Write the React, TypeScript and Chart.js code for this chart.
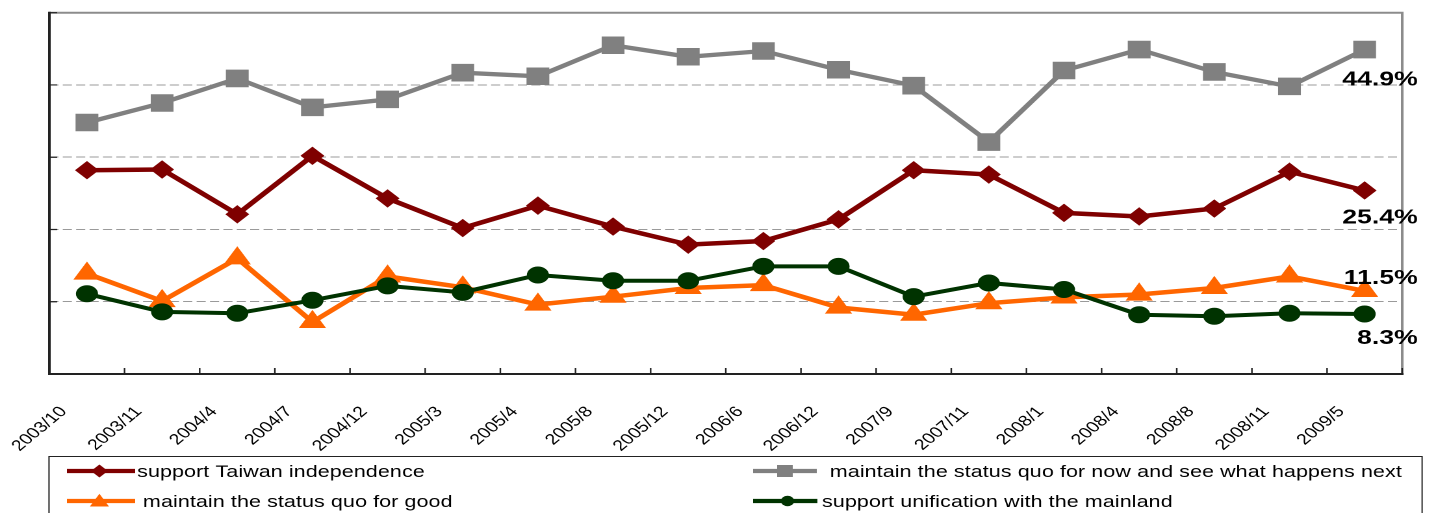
import React, { useEffect, useRef } from 'react';
import { Chart, registerables } from 'chart.js';

Chart.register(...registerables);

// ---------------- data ----------------
const categories = [
  '2003/10', '2003/11', '2004/4', '2004/7', '2004/12', '2005/3', '2005/4', '2005/8', '2005/12',
  '2006/6', '2006/12', '2007/9', '2007/11', '2008/1', '2008/4', '2008/8', '2008/11', '2009/5',
];

const independence = [28.2, 28.3, 22.1, 30.2, 24.3, 20.2, 23.3, 20.4, 17.9, 18.4, 21.4, 28.2, 27.6, 22.3, 21.8, 22.9, 28.0, 25.4];
const statusQuoNow = [34.8, 37.5, 40.9, 36.9, 38.0, 41.7, 41.2, 45.5, 43.9, 44.7, 42.1, 39.9, 32.1, 42.0, 44.9, 41.8, 39.8, 44.9];
const statusQuoGood = [13.9, 10.1, 16.0, 7.2, 13.5, 12.0, 9.6, 10.7, 11.9, 12.3, 9.2, 8.2, 9.8, 10.6, 11.0, 11.9, 13.5, 11.5];
const unification = [11.1, 8.6, 8.4, 10.2, 12.2, 11.3, 13.7, 12.9, 12.9, 14.9, 14.9, 10.7, 12.6, 11.7, 8.2, 8.0, 8.4, 8.3];

const seriesNames = [
  'support Taiwan independence',
  'maintain the status quo for now and see what happens next',
  'maintain the status quo for good',
  'support unification with the mainland',
];

const yMin = 0;
const yMax = 50;
const yStep = 10;

// ---------------- styles ----------------
const OUT_W = 1436;
const INNER_W = 1105;
const H = 513;
const FONT = '"Liberation Sans", Arial, sans-serif';

const styles = [
  { color: '#7f0000', pointStyle: 'rectRot', radius: 8.5, lineWidth: 4.5, order: 3, labelDy: 33, legend: { x1: 51.5, x2: 104, mx: 76.5, tx: 105.5, y: 471 }, marker: 6.5 },
  { color: '#808080', pointStyle: 'rect', radius: 11.7, lineWidth: 4.3, order: 2, labelDy: 36, legend: { x1: 579.5, x2: 628.5, mx: 604, tx: 638.5, y: 471 }, marker: 6 },
  { color: '#ff6600', pointStyle: 'triangle', radius: 11.1, lineWidth: 4.5, order: 1, labelDy: -7, legend: { x1: 51.5, x2: 104, mx: 76.5, tx: 110, y: 501 }, marker: 8.5 },
  { color: '#003300', pointStyle: 'circle', radius: 8, lineWidth: 4, order: 0, labelDy: 30, legend: { x1: 579.5, x2: 629, mx: 606, tx: 632.5, y: 501 }, marker: 5.2 },
];

const seriesValues = [independence, statusQuoNow, statusQuoGood, unification];

const toXY = (arr: number[]) => arr.map((v, i) => ({ x: i + 0.5, y: v }));

function drawMarker(ctx: CanvasRenderingContext2D, style: string, x: number, y: number, r: number) {
  ctx.beginPath();
  if (style === 'rectRot') {
    ctx.moveTo(x - r, y);
    ctx.lineTo(x, y - r);
    ctx.lineTo(x + r, y);
    ctx.lineTo(x, y + r);
    ctx.closePath();
  } else if (style === 'rect') {
    ctx.rect(x - r, y - r, 2 * r, 2 * r);
  } else if (style === 'triangle') {
    ctx.moveTo(x, y - r * 0.85);
    ctx.lineTo(x + r * 0.866, y + r * 0.65);
    ctx.lineTo(x - r * 0.866, y + r * 0.65);
    ctx.closePath();
  } else {
    ctx.arc(x, y, r, 0, Math.PI * 2);
  }
  ctx.fill();
}

const framePlugin = {
  id: 'frame',
  beforeDatasetsDraw(chart: any) {
    const { ctx, chartArea: a, scales } = chart;
    ctx.save();
    ctx.strokeStyle = '#8c8c8c';
    ctx.lineWidth = 2;
    ctx.beginPath();
    ctx.moveTo(a.left, a.top);
    ctx.lineTo(a.right, a.top);
    ctx.lineTo(a.right, a.bottom);
    ctx.stroke();

    ctx.strokeStyle = '#222';
    ctx.lineWidth = 2;
    ctx.beginPath();
    ctx.moveTo(a.left, a.top - 1);
    ctx.lineTo(a.left, a.bottom);
    ctx.lineTo(a.right + 1, a.bottom);
    ctx.stroke();

    ctx.lineWidth = 1.2;
    ctx.beginPath();
    scales.y.ticks.forEach((t: any) => {
      const py = scales.y.getPixelForValue(t.value);
      ctx.moveTo(a.left, py);
      ctx.lineTo(a.left + 6, py);
    });
    scales.x.ticks.forEach((t: any) => {
      const px = scales.x.getPixelForValue(t.value);
      ctx.moveTo(px, a.bottom);
      ctx.lineTo(px, a.bottom - 6);
    });
    ctx.stroke();
    ctx.restore();
  },
};

const labelsPlugin = {
  id: 'endLabels',
  afterDraw(chart: any) {
    const { ctx, chartArea: a } = chart;
    ctx.save();
    ctx.font = `bold 20.5px ${FONT}`;
    ctx.fillStyle = '#000';
    ctx.textAlign = 'right';
    ctx.textBaseline = 'alphabetic';
    chart.data.datasets.forEach((ds: any, i: number) => {
      const meta = chart.getDatasetMeta(i);
      const last = meta.data[meta.data.length - 1];
      const val = ds.data[ds.data.length - 1].y;
      ctx.fillText(`${val.toFixed(1)}%`, a.right + 12, last.y + styles[i].labelDy);
    });

    // legend
    ctx.strokeStyle = '#222';
    ctx.lineWidth = 1;
    ctx.strokeRect(37.7, 456.5, 1056.6, 100);
    ctx.font = `16.5px ${FONT}`;
    ctx.textAlign = 'left';
    (ctx as any).letterSpacing = '0.08px';
    chart.data.datasets.forEach((ds: any, i: number) => {
      const s = styles[i];
      const L = s.legend;
      ctx.strokeStyle = s.color;
      ctx.fillStyle = s.color;
      ctx.lineWidth = 4.3;
      ctx.beginPath();
      ctx.moveTo(L.x1, L.y);
      ctx.lineTo(L.x2, L.y);
      ctx.stroke();
      drawMarker(ctx, s.pointStyle, L.mx, L.y, s.marker);
      ctx.fillStyle = '#000';
      ctx.fillText(ds.label, L.tx, L.y + 6);
    });
    ctx.restore();
  },
};

export default function App() {
  const canvasRef = useRef<HTMLCanvasElement | null>(null);

  useEffect(() => {
    if (!canvasRef.current) return;
    const chart = new Chart(canvasRef.current, {
      type: 'line',
      data: {
        datasets: seriesValues.map((vals, i) => ({
          label: seriesNames[i],
          data: toXY(vals),
          borderColor: styles[i].color,
          backgroundColor: styles[i].color,
          pointBackgroundColor: styles[i].color,
          pointBorderColor: styles[i].color,
          pointBorderWidth: 1,
          pointStyle: styles[i].pointStyle as any,
          pointRadius: styles[i].radius,
          pointHoverRadius: styles[i].radius,
          borderWidth: styles[i].lineWidth,
          tension: 0,
          order: styles[i].order,
          clip: false as any,
        })),
      },
      options: {
        animation: false,
        responsive: true,
        maintainAspectRatio: false,
        devicePixelRatio: 2,
        events: [],
        layout: { padding: { top: 10, right: 26, left: 0, bottom: 0 } },
        plugins: {
          legend: { display: false },
          tooltip: { enabled: false },
          title: { display: false },
        },
        scales: {
          x: {
            type: 'linear',
            min: 0,
            max: categories.length,
            afterBuildTicks: (scale: any) => {
              scale.ticks = Array.from({ length: categories.length + 1 }, (_, i) => ({ value: i }));
            },
            afterFit: (scale: any) => {
              scale.height = H - 374;
              scale.paddingLeft = 0;
              scale.paddingRight = 0;
            },
            grid: { display: false },
            border: { display: false },
            ticks: {
              autoSkip: false,
              minRotation: 47,
              maxRotation: 47,
              padding: 21,
              labelOffset: 11,
              color: '#000',
              font: { family: FONT, size: 15 },
              callback: (value: any) => categories[value as number] ?? '',
            },
          },
          y: {
            min: yMin,
            max: yMax,
            afterFit: (scale: any) => {
              scale.width = 38;
            },
            ticks: { display: false, stepSize: yStep },
            grid: {
              drawTicks: false,
              lineWidth: 1,
              color: (ctx: any) => (ctx.tick && ctx.tick.value > yMin && ctx.tick.value < yMax ? '#9a9a9a' : 'rgba(0,0,0,0)'),
            },
            border: { display: false, dash: [7, 3.3] },
          },
        },
      },
      plugins: [framePlugin, labelsPlugin],
    });
    return () => chart.destroy();
  }, []);

  return (
    <div style={{ position: 'fixed', left: 0, top: 0, width: OUT_W, height: H, overflow: 'hidden', background: '#fff' }}>
      <div
        style={{
          width: INNER_W,
          height: H,
          transform: `scaleX(${OUT_W / INNER_W})`,
          transformOrigin: '0 0',
          position: 'relative',
        }}
      >
        <canvas ref={canvasRef} style={{ display: 'block' }} />
      </div>
    </div>
  );
}
